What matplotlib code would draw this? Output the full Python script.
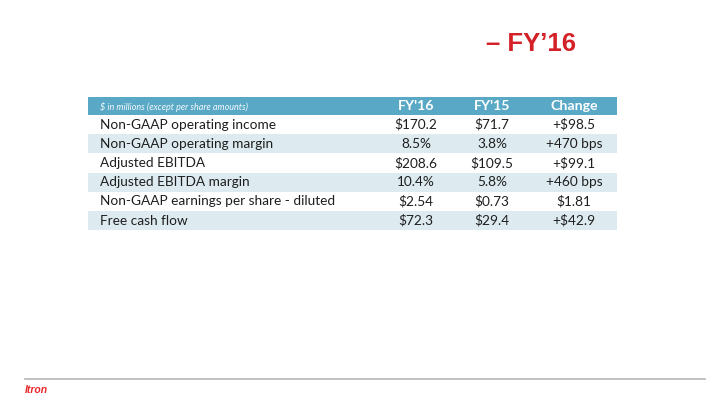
import matplotlib
matplotlib.use("Agg")
import matplotlib.pyplot as plt
from matplotlib.patches import Rectangle

title = "– FY’16"
note = "$ in millions (except per share amounts)"
columns = ["FY'16", "FY'15", "Change"]
metrics = [
    "Non-GAAP operating income",
    "Non-GAAP operating margin",
    "Adjusted EBITDA",
    "Adjusted EBITDA margin",
    "Non-GAAP earnings per share - diluted",
    "Free cash flow",
]
fy16 = ["$170.2", "8.5%", "$208.6", "10.4%", "$2.54", "$72.3"]
fy15 = ["$71.7", "3.8%", "$109.5", "5.8%", "$0.73", "$29.4"]
change = ["+$98.5", "+470 bps", "+$99.1", "+460 bps", "$1.81", "+$42.9"]

W, H = 720, 405
fig = plt.figure(figsize=(7.2, 4.05), dpi=100)
ax = fig.add_axes([0, 0, 1, 1])
ax.set_xlim(0, W)
ax.set_ylim(H, 0)
ax.axis("off")

FONT = ["Lato", "DejaVu Sans"]
header_blue = "#58A8C6"
light_blue = "#DDEBF1"
text_col = "#1E1E1E"

# Title
ax.text(576, 44, title, color="#D42027", fontsize=18.5, fontweight="bold",
        family=["Liberation Sans", "DejaVu Sans"], ha="right", va="center")

# Table geometry
x0, x1 = 88, 617
hy0, hy1 = 97, 115
row_h = 19.2
col_x = [416, 492, 574]
label_x = 100
fs = 9.8

ax.add_patch(Rectangle((x0, hy0), x1 - x0, hy1 - hy0, color=header_blue, lw=0))
ax.text(label_x, 107.5, note, color="white", fontsize=6.5, style="italic",
        family=FONT, ha="left", va="center", alpha=0.95)
for cx, c in zip(col_x, columns):
    ax.text(cx, 106, c, color="white", fontsize=10.2, fontweight="bold",
            family=FONT, ha="center", va="center")

for i, (m, a, b, c) in enumerate(zip(metrics, fy16, fy15, change)):
    top = hy1 + i * row_h
    if i % 2 == 1:
        ax.add_patch(Rectangle((x0, top), x1 - x0, row_h, color=light_blue, lw=0))
    yc = top + row_h / 2
    ax.text(label_x, yc, m, color=text_col, fontsize=fs, family=FONT,
            ha="left", va="center")
    for cx, v in zip(col_x, (a, b, c)):
        ax.text(cx, yc, v, color=text_col, fontsize=fs, family=FONT,
                ha="center", va="center")

# Footer line and logo
ax.plot([25, 705], [379, 379], color="#B5B5B5", lw=1.2)
ax.text(25, 390, "Itron", color="#E8262B", fontsize=7.5, fontweight="bold",
        style="italic", family=["Liberation Sans", "DejaVu Sans"],
        ha="left", va="center")

fig.savefig("out.png", dpi=100, facecolor="white")
